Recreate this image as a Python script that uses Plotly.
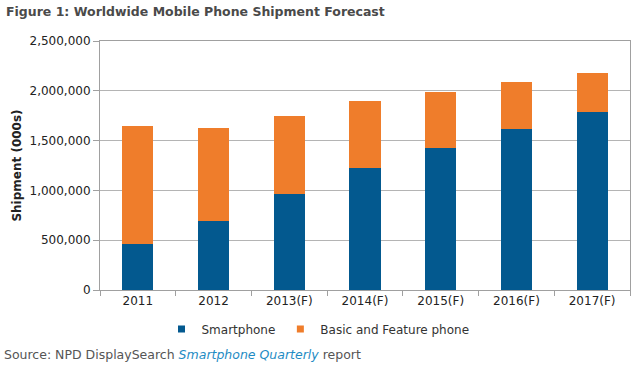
import plotly.graph_objects as go

years = ["2011", "2012", "2013(F)", "2014(F)", "2015(F)", "2016(F)", "2017(F)"]
smartphone = [465000, 695000, 960000, 1227000, 1421000, 1615000, 1785000]
total = [1648000, 1628000, 1745000, 1896000, 1990000, 2090000, 2180000]
basic_feature = [t - s for t, s in zip(total, smartphone)]
y_ticks = [0, 500000, 1000000, 1500000, 2000000, 2500000]

BLUE = "#03598F"
ORANGE = "#EF7D2B"
FONT = "DejaVu Sans"

L, R, T, B = 100, 10, 41, 79
PW, PH = 640 - L - R, 369 - T - B

fig = go.Figure()
fig.add_trace(go.Bar(x=years, y=smartphone, name="Smartphone",
                     marker=dict(color=BLUE, line=dict(width=0)), showlegend=False))
fig.add_trace(go.Bar(x=years, y=basic_feature, name="Basic and Feature phone",
                     marker=dict(color=ORANGE, line=dict(width=0)), showlegend=False))
# legend entries with small square symbols
fig.add_trace(go.Scatter(x=[None], y=[None], mode="markers", name="Smartphone",
                         marker=dict(symbol="square", size=7, color=BLUE)))
fig.add_trace(go.Scatter(x=[None], y=[None], mode="markers", name="Basic and Feature phone",
                         marker=dict(symbol="square", size=7, color=ORANGE)))

fig.update_layout(
    barmode="stack",
    bargap=0.59,
    width=640, height=369,
    margin=dict(l=L, r=R, t=T, b=B, autoexpand=False),
    paper_bgcolor="white", plot_bgcolor="white",
    font=dict(family=FONT, size=12, color="#333333"),
    showlegend=True,
    legend=dict(orientation="h", x=(318 - L) / PW, xanchor="center",
                y=-(329 - 290) / PH, yanchor="middle", traceorder="normal",
                font=dict(family=FONT, size=12, color="#333333"),
                itemwidth=30, bgcolor="rgba(0,0,0,0)"),
    annotations=[
        dict(text="<b>Figure 1: Worldwide Mobile Phone Shipment Forecast</b>",
             xref="paper", yref="paper", x=(4 - L) / PW, y=1 + (T - 12) / PH,
             xanchor="left", yanchor="middle", showarrow=False,
             font=dict(family=FONT, size=12.5, color="#4a4a4a")),
        dict(text="Source: NPD DisplaySearch <i><span style='color:#1F8CC4'>Smartphone Quarterly</span></i> report",
             xref="paper", yref="paper", x=(2 - L) / PW, y=-(354 - 290) / PH,
             xanchor="left", yanchor="middle", showarrow=False,
             font=dict(family=FONT, size=12.5, color="#555555")),
    ],
)

fig.update_xaxes(
    showline=True, linecolor="#a0a0a0", linewidth=1, mirror=True,
    ticks="outside", tickson="boundaries", ticklen=5, tickcolor="#a0a0a0",
    tickfont=dict(family=FONT, size=12, color="#222222"),
    showgrid=False, automargin=False,
)
fig.update_yaxes(
    range=[0, 2500000], tickvals=y_ticks, tickformat=",d",
    showline=True, linecolor="#a0a0a0", linewidth=1, mirror=True,
    ticks="outside", ticklen=6, tickcolor="#a0a0a0",
    showgrid=True, gridcolor="#b4b4b4", gridwidth=1,
    tickfont=dict(family=FONT, size=12, color="#222222"),
    title=dict(text="<b>Shipment (000s)</b>", font=dict(family=FONT, size=12, color="#222222"), standoff=5),
    zeroline=False, automargin=False,
)

fig.write_html("out.html", config={"displayModeBar": False},
               post_script="document.body.style.margin='0';")
